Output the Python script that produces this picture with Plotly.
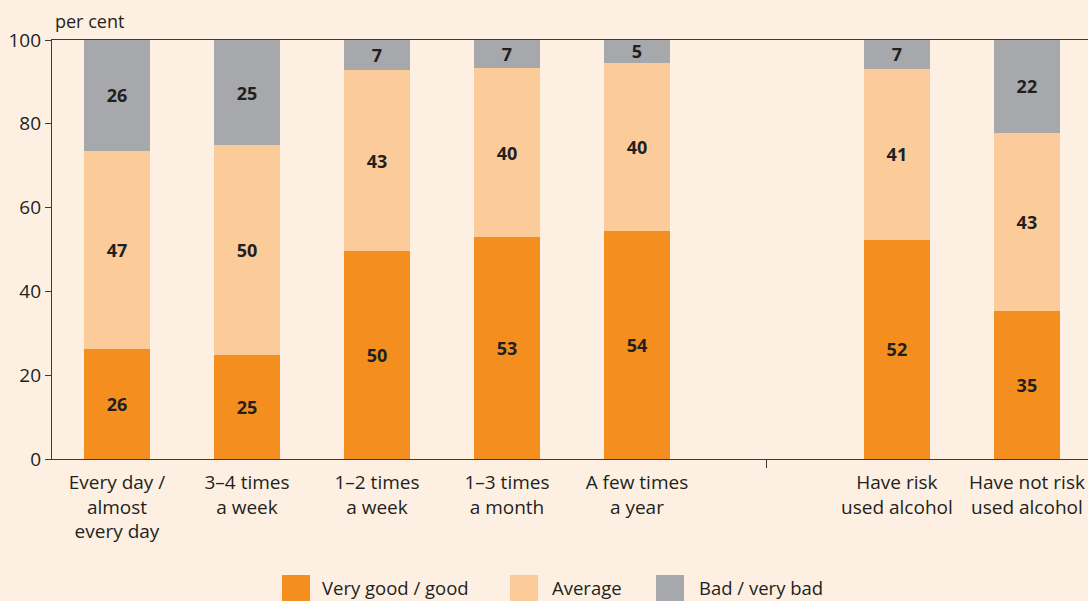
import plotly.graph_objects as go

categories = ["Every day /<br>almost<br>every day", "3–4 times<br>a week", "1–2 times<br>a week",
              "1–3 times<br>a month", "A few times<br>a year",
              "Have risk<br>used alcohol", "Have not risk<br>used alcohol"]
positions = [0, 1, 2, 3, 4, 6, 7]
very_good = [26.3, 24.8, 49.6, 53.0, 54.4, 52.3, 35.3]
average = [47.3, 50.1, 43.2, 40.3, 40.2, 40.8, 42.6]
bad = [26.4, 25.1, 7.2, 6.7, 5.4, 6.9, 22.1]
series_names = ["Very good / good", "Average", "Bad / very bad"]
colors = ["#F48F1F", "#FCCB9A", "#A7A8AB"]
y_ticks = [0, 20, 40, 60, 80, 100]

BG = "#FDF0E2"
FONT = "Open Sans"
TXT = "#231F20"
LINE = "#3a3a3a"

L, R, T, B = 52, 0, 40, 142
W, H = 1088, 601
PW = W - L - R
PH = H - T - B


def px_x(px):
    return (px - L) / PW


def px_y(py):
    return (H - B - py) / PH


fig = go.Figure()
for name, vals, col in zip(series_names, [very_good, average, bad], colors):
    fig.add_trace(go.Bar(
        x=positions, y=vals, name=name, marker=dict(color=col, line=dict(width=0)),
        width=0.51, text=[f"{v:.0f}" for v in vals], texttemplate="<b>%{text}</b>",
        textposition="inside", insidetextanchor="middle", textangle=0,
        constraintext="none", textfont=dict(family=FONT, size=18, color=TXT),
        hoverinfo="skip", showlegend=False,
    ))

# invisible trace to activate xaxis2 for the separator tick
fig.add_trace(go.Scatter(x=[5], y=[0], xaxis="x2", mode="markers", marker=dict(opacity=0),
                         showlegend=False, hoverinfo="skip"))

# custom legend (large square swatches)
legend_swatch_px = [(282, 310), (510, 538), (656, 684)]
legend_text_px = [320, 550, 697]
shapes = []
annotations = [dict(text="per cent", xref="paper", yref="paper", x=px_x(53), y=px_y(21),
                    xanchor="left", yanchor="middle", showarrow=False,
                    font=dict(family=FONT, size=18, color=TXT))]
for (x0, x1), tx, name, col in zip(legend_swatch_px, legend_text_px, series_names, colors):
    shapes.append(dict(type="rect", xref="paper", yref="paper", x0=px_x(x0), x1=px_x(x1),
                       y0=px_y(605), y1=px_y(575), fillcolor=col, line=dict(width=0), layer="above"))
    annotations.append(dict(text=name, xref="paper", yref="paper", x=px_x(tx), y=px_y(587),
                            xanchor="left", yanchor="middle", showarrow=False,
                            font=dict(family=FONT, size=18.5, color=TXT)))

fig.update_layout(
    template="none",
    barmode="stack",
    paper_bgcolor=BG, plot_bgcolor=BG,
    width=W, height=H,
    margin=dict(l=L, r=R, t=T, b=B, pad=0, autoexpand=False),
    font=dict(family=FONT, size=19, color=TXT),
    showlegend=False,
    xaxis=dict(range=[-0.5, 7.47], tickmode="array", tickvals=positions, ticktext=categories,
               ticks="", ticklabelstandoff=6, showline=True, linecolor=LINE, linewidth=1.2,
               mirror=True, automargin=False, showgrid=False, zeroline=False,
               tickfont=dict(family=FONT, size=19, color=TXT)),
    xaxis2=dict(overlaying="x", matches="x", range=[-0.5, 7.47], tickmode="array", tickvals=[5],
                ticktext=[""], ticks="outside", ticklen=8, tickcolor=LINE, tickwidth=1,
                automargin=False, showline=False, showgrid=False, zeroline=False, side="bottom",
                showticklabels=False),
    yaxis=dict(range=[0, 100], tickmode="array", tickvals=y_ticks, ticks="outside", ticklen=6,
               tickcolor=LINE, showline=True, linecolor=LINE, linewidth=1.2, automargin=False,
               showgrid=False, zeroline=False, tickfont=dict(family=FONT, size=19, color=TXT)),
    shapes=shapes,
    annotations=annotations,
)

fig.write_html(
    "out.html",
    config={"displayModeBar": False},
    post_script=("document.body.style.margin='0';document.body.style.overflow='hidden';"
                 "document.body.style.background='" + BG + "';"),
)
